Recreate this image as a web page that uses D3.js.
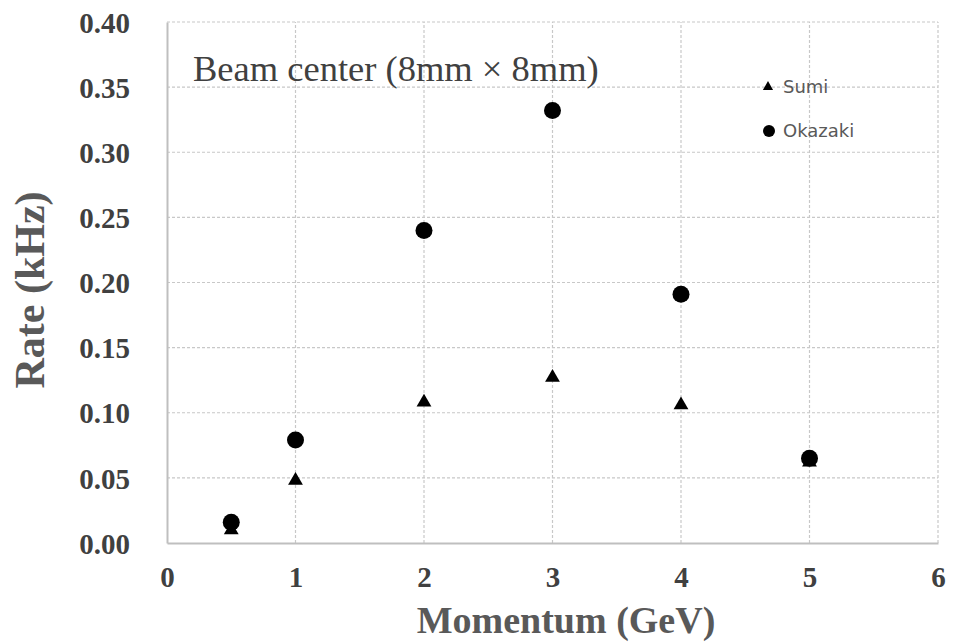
<!DOCTYPE html>
<html><head><meta charset="utf-8">
<script src="https://cdn.jsdelivr.net/npm/d3@7"></script>
<style>body{margin:0;background:#fff;}svg{display:block;}</style>
</head><body>
<script>
const momentum = [0.5, 1, 2, 3, 4, 5];
const sumi = [0.010, 0.048, 0.108, 0.127, 0.106, 0.062];
const okazaki = [0.016, 0.079, 0.240, 0.332, 0.191, 0.065];
const xTicks = [0, 1, 2, 3, 4, 5, 6];
const yTicks = [0, 0.05, 0.10, 0.15, 0.20, 0.25, 0.30, 0.35, 0.40];

const W = 953, H = 643;
const m = {l: 167, r: 15, t: 22, b: 100};
const svg = d3.select("body").append("svg").attr("width", W).attr("height", H);
const x = d3.scaleLinear().domain([0, 6]).range([m.l, W - m.r]);
const y = d3.scaleLinear().domain([0, 0.4]).range([H - m.b, m.t]);

// grid
svg.append("g").selectAll("line").data(yTicks.filter(d => d > 0)).join("line")
  .attr("x1", x(0)).attr("x2", x(6)).attr("y1", d => y(d)).attr("y2", d => y(d))
  .attr("stroke", "#c8c8c8").attr("stroke-width", 1.2).attr("stroke-dasharray", "3,2");
svg.append("g").selectAll("line").data(xTicks.filter(d => d > 0)).join("line")
  .attr("x1", d => x(d)).attr("x2", d => x(d)).attr("y1", y(0)).attr("y2", y(0.4))
  .attr("stroke", "#c8c8c8").attr("stroke-width", 1.2).attr("stroke-dasharray", "3,2");

// axes
const xAxis = svg.append("g").attr("transform", `translate(0,${y(0)})`)
  .call(d3.axisBottom(x).tickValues(xTicks).tickSize(0).tickPadding(25).tickFormat(d3.format("d")));
const yAxis = svg.append("g").attr("transform", `translate(${x(0)},0)`)
  .call(d3.axisLeft(y).tickValues(yTicks).tickSize(0).tickPadding(37).tickFormat(d3.format(".2f")));
[xAxis, yAxis].forEach(a => {
  a.select(".domain").attr("stroke", "#bfbfbf").attr("stroke-width", 2);
  a.selectAll("text").attr("font-family", "Liberation Serif, Times New Roman, serif")
    .attr("font-weight", "bold").attr("font-size", 29).attr("fill", "#404040");
});
xAxis.selectAll("text").attr("dy", "0.5em").attr("y", 29);
yAxis.selectAll("text").attr("dy", "0.35em");

// titles
svg.append("text").attr("x", 566).attr("y", 633).attr("text-anchor", "middle")
  .attr("font-family", "Liberation Serif, serif").attr("font-weight", "bold")
  .attr("font-size", 38).attr("fill", "#595959").text("Momentum (GeV)");
svg.append("text").attr("transform", `translate(44,290) rotate(-90)`)
  .attr("text-anchor", "middle")
  .attr("font-family", "Liberation Serif, serif").attr("font-weight", "bold")
  .attr("font-size", 42).attr("fill", "#595959").text("Rate (kHz)");

// annotation
svg.append("text").attr("x", 193).attr("y", 81)
  .attr("font-family", "Liberation Serif, serif").attr("font-size", 36.5).attr("fill", "#404040")
  .text("Beam center (8mm × 8mm)");

const tri = d3.symbol().type(d3.symbolTriangle).size(95);
// series
svg.append("g").selectAll("path").data(momentum).join("path")
  .attr("d", tri).attr("transform", (d, i) => `translate(${x(d)},${y(sumi[i])})`).attr("fill", "#000");
svg.append("g").selectAll("circle").data(momentum).join("circle")
  .attr("cx", d => x(d)).attr("cy", (d, i) => y(okazaki[i])).attr("r", 8.5).attr("fill", "#000");

// legend
const lg = svg.append("g").attr("font-family", "DejaVu Sans, sans-serif").attr("font-size", 18).attr("fill", "#595959");
lg.append("path").attr("d", d3.symbol().type(d3.symbolTriangle).size(45)).attr("transform", "translate(768,87)").attr("fill", "#000");
lg.append("text").attr("x", 783).attr("y", 93).text("Sumi");
lg.append("circle").attr("cx", 769).attr("cy", 131).attr("r", 6).attr("fill", "#000");
lg.append("text").attr("x", 783).attr("y", 137).text("Okazaki");
</script>
</body></html>
